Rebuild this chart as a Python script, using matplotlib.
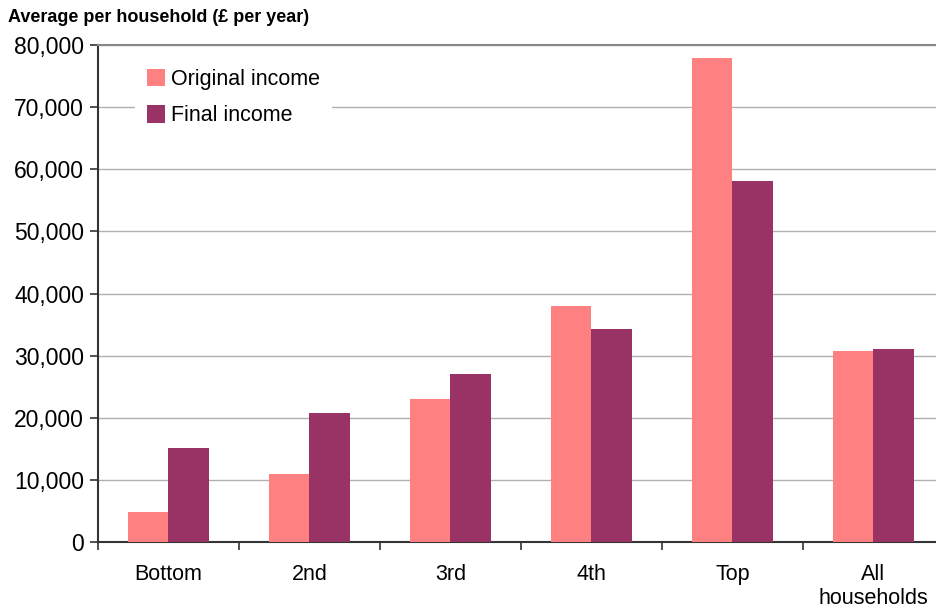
import matplotlib
matplotlib.use('Agg')
import matplotlib.pyplot as plt
import numpy as np

# Income by quintile group, £ per year
groups = ['Bottom', '2nd', '3rd', '4th', 'Top', 'All\nhouseholds']
original_income = [4900, 11000, 23000, 38000, 77900, 30800]
final_income = [15100, 20800, 27000, 34300, 58100, 31000]
series_names = ['Original income', 'Final income']
yticks = [0, 10000, 20000, 30000, 40000, 50000, 60000, 70000, 80000]

plt.rcParams['font.family'] = ['Liberation Sans', 'DejaVu Sans']

fig = plt.figure(figsize=(9.37, 6.13), dpi=100)
ax = fig.add_axes([98/937, 71/613, 846/937, 497/613])

x = np.arange(len(groups))
w = 0.29
ax.bar(x - w/2, original_income, w, color='#FF8080', label=series_names[0], zorder=3)
ax.bar(x + w/2, final_income, w, color='#993366', label=series_names[1], zorder=3)

ax.set_xlim(-0.5, len(groups) - 0.5)
ax.set_ylim(0, 80000)
ax.set_yticks(yticks)
ax.set_yticklabels([f'{v:,}' for v in yticks], fontsize=16.5)
ax.yaxis.grid(True, color='#b0b0b0', lw=1, zorder=0)

# category labels centred, tick marks between groups
ax.set_xticks(x)
ax.set_xticklabels(groups, fontsize=15.5, linespacing=1.15)
ax.tick_params(axis='x', length=0, pad=16)
ax.set_xticks(np.arange(-0.5, len(groups)), minor=True)
ax.tick_params(axis='x', which='minor', length=6, width=1.2, color='#333333')
ax.tick_params(axis='y', length=6, width=1.2, color='#333333', pad=4)

for side in ['left', 'bottom']:
    ax.spines[side].set_color('#333333')
    ax.spines[side].set_linewidth(1.5)
ax.spines['top'].set_color('#888888')
ax.spines['top'].set_linewidth(1.5)
ax.spines['right'].set_visible(False)

# white legend box sits over the gridlines
leg = ax.legend(loc='upper left', bbox_to_anchor=(0.044, 0.975), fontsize=15.5,
                frameon=True, fancybox=False, framealpha=1, edgecolor='none',
                handlelength=0.85, handleheight=0.85, handletextpad=0.25,
                labelspacing=0.7, borderpad=0.55, borderaxespad=0)
leg.get_frame().set_facecolor('white')
leg.set_zorder(5)

fig.text(8/937, 1 - 18/613, 'Average per household (£ per year)', fontsize=13,
         fontweight='bold', va='center', ha='left')

fig.savefig('out.png', dpi=100)
